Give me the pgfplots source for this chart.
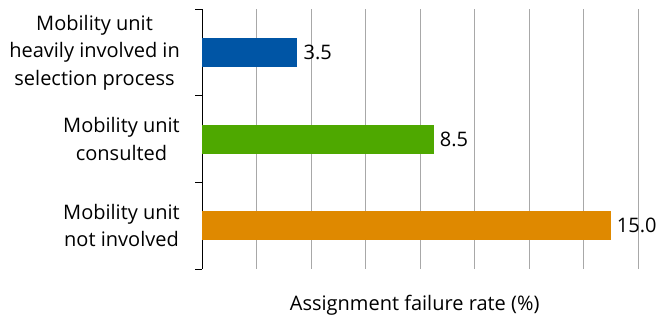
\documentclass[border=0pt]{standalone}
\usepackage{pgfplots}
\pgfplotsset{compat=1.18}
\usepackage{fontspec}
\setmainfont{Open Sans}
\definecolor{cblue}{HTML}{0055A5}
\definecolor{cgreen}{HTML}{4EA800}
\definecolor{corange}{HTML}{DF8900}
\definecolor{cgrid}{HTML}{A8A8A8}
\begin{document}
\begin{tikzpicture}
\useasboundingbox (0,0) rectangle (660pt,318pt);
\begin{axis}[
  at={(202pt,49pt)}, anchor=south west,
  scale only axis, width=436pt, height=260pt,
  xmin=0, xmax=16, xtick={0,2,...,16}, xticklabels={},
  ymin=-0.5, ymax=2.5, y dir=reverse,
  axis y line*=left, axis x line*=bottom,
  x axis line style={draw=none},
  xtick style={draw=none},
  xmajorgrids, grid style={cgrid, line width=0.8pt},
  ytick={-0.5,0.5,1.5,2.5}, yticklabels={},
  ytick style={black, line width=0.8pt},
  tick align=outside, major tick length=7pt,
  y axis line style={line width=0.8pt},
  extra y ticks={0,1,2},
  extra y tick labels={Mobility unit\\heavily involved in\\selection process, Mobility unit\\consulted, Mobility unit\\not involved},
  extra y tick style={major tick length=0pt, yticklabel style={align=center, inner sep=0pt, anchor=east, xshift=-22pt, font=\fontsize{20}{27.5}\selectfont}},
  xbar, bar width=29pt, bar shift=0pt,
  nodes near coords={\pgfmathprintnumber[fixed,fixed zerofill,precision=1]{\pgfplotspointmeta}},
  nodes near coords style={anchor=west, font=\fontsize{20}{24}\selectfont, black, inner sep=6pt},
  /pgf/number format/assume math mode=true,
  xlabel={Assignment failure rate (\%)},
  xlabel style={font=\fontsize{20}{24}\selectfont, anchor=base east, at={(axis description cs:0.782,0)}, yshift=-41pt},
  clip=false,
]
\addplot[fill=cblue, draw=none] coordinates {(3.5,0)};
\addplot[fill=cgreen, draw=none] coordinates {(8.5,1)};
\addplot[fill=corange, draw=none] coordinates {(15.0,2)};
\end{axis}
\end{tikzpicture}
\end{document}
